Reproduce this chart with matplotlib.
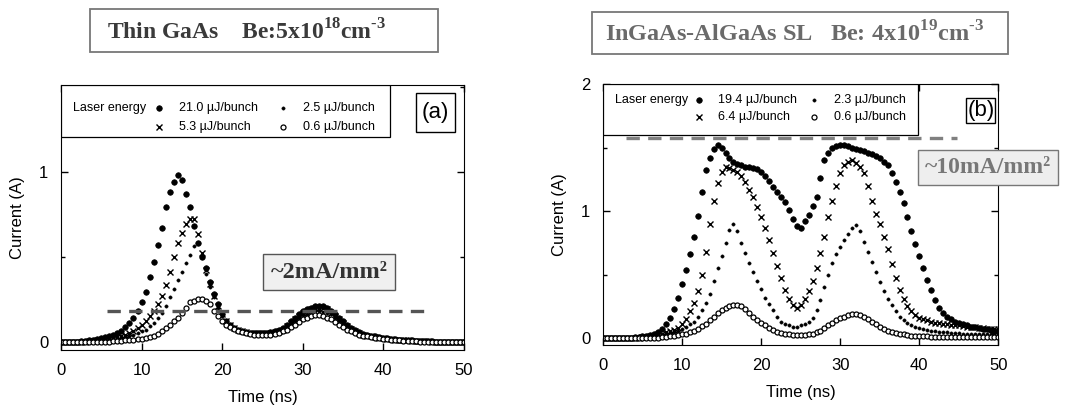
import numpy as np
import matplotlib
matplotlib.use("Agg")
import matplotlib.pyplot as plt
from matplotlib.patches import Rectangle
from matplotlib.ticker import MultipleLocator

plt.rcParams['font.family'] = ['Liberation Sans', 'DejaVu Sans']
plt.rcParams['mathtext.fontset'] = 'custom'
plt.rcParams['mathtext.rm'] = 'Liberation Serif:bold'
plt.rcParams['mathtext.bf'] = 'Liberation Serif:bold'

# time axis, one sample every 0.5 ns
time_ns = np.arange(0, 50.5, 0.5)

# (a) thin GaAs, current in A
gaas_21_0 = [0, 0, 0, 0, 0, 0.005, 0.005, 0.01, 0.01, 0.015,
             0.02, 0.025, 0.03, 0.04, 0.05, 0.065, 0.085, 0.11, 0.14, 0.18,
             0.23, 0.29, 0.38, 0.47, 0.57, 0.67, 0.79, 0.88, 0.94, 0.98,
             0.95, 0.87, 0.79, 0.68, 0.58, 0.50, 0.43, 0.35, 0.28, 0.22,
             0.16, 0.12, 0.10, 0.08, 0.07, 0.06, 0.055, 0.05, 0.05, 0.05,
             0.05, 0.05, 0.055, 0.06, 0.07, 0.08, 0.10, 0.12, 0.14, 0.16,
             0.18, 0.19, 0.20, 0.21, 0.21, 0.21, 0.20, 0.18, 0.16, 0.14,
             0.12, 0.10, 0.08, 0.07, 0.055, 0.045, 0.04, 0.035, 0.03, 0.025,
             0.02, 0.02, 0.015, 0.015, 0.01, 0.01, 0.01, 0.01, 0.005, 0.005,
             0.005, 0.005, 0.005, 0, 0, 0, 0, 0, 0, 0,
             0]
gaas_5_3 = [0, 0, 0, 0, 0, 0, 0, 0.005, 0.005, 0.01,
            0.01, 0.015, 0.02, 0.02, 0.025, 0.03, 0.04, 0.05, 0.06, 0.08,
            0.10, 0.12, 0.15, 0.18, 0.22, 0.27, 0.33, 0.41, 0.50, 0.58,
            0.64, 0.69, 0.72, 0.72, 0.63, 0.52, 0.42, 0.34, 0.27, 0.21,
            0.16, 0.12, 0.10, 0.08, 0.07, 0.06, 0.055, 0.05, 0.05, 0.05,
            0.05, 0.05, 0.05, 0.055, 0.06, 0.07, 0.09, 0.11, 0.13, 0.15,
            0.17, 0.18, 0.19, 0.20, 0.20, 0.20, 0.19, 0.17, 0.15, 0.13,
            0.11, 0.09, 0.075, 0.06, 0.05, 0.04, 0.035, 0.03, 0.025, 0.02,
            0.02, 0.015, 0.015, 0.01, 0.01, 0.01, 0.01, 0.005, 0.005, 0.005,
            0.005, 0.005, 0, 0, 0, 0, 0, 0, 0, 0,
            0]
gaas_2_5 = [0, 0, 0, 0, 0, 0, 0, 0.005, 0.005, 0.005,
            0.01, 0.01, 0.01, 0.015, 0.02, 0.02, 0.025, 0.03, 0.04, 0.05,
            0.06, 0.07, 0.09, 0.11, 0.14, 0.17, 0.21, 0.26, 0.31, 0.36,
            0.41, 0.46, 0.51, 0.56, 0.58, 0.50, 0.40, 0.32, 0.26, 0.20,
            0.15, 0.12, 0.095, 0.08, 0.07, 0.06, 0.055, 0.05, 0.045, 0.045,
            0.045, 0.045, 0.05, 0.05, 0.055, 0.065, 0.08, 0.10, 0.12, 0.14,
            0.155, 0.165, 0.175, 0.18, 0.18, 0.175, 0.17, 0.16, 0.14, 0.12,
            0.10, 0.085, 0.07, 0.06, 0.05, 0.04, 0.035, 0.03, 0.025, 0.02,
            0.015, 0.015, 0.01, 0.01, 0.01, 0.005, 0.005, 0.005, 0.005, 0.005,
            0, 0, 0, 0, 0, 0, 0, 0, 0, 0,
            0]
gaas_0_6 = [0, 0, 0, 0, 0, 0, 0, 0, 0, 0,
            0, 0, 0, 0.005, 0.005, 0.005, 0.01, 0.01, 0.01, 0.015,
            0.015, 0.02, 0.025, 0.035, 0.045, 0.06, 0.08, 0.10, 0.12, 0.14,
            0.17, 0.20, 0.23, 0.24, 0.25, 0.25, 0.24, 0.22, 0.18, 0.15,
            0.12, 0.10, 0.085, 0.075, 0.065, 0.055, 0.05, 0.045, 0.04, 0.04,
            0.04, 0.04, 0.04, 0.045, 0.05, 0.06, 0.07, 0.085, 0.10, 0.115,
            0.13, 0.14, 0.15, 0.155, 0.155, 0.15, 0.14, 0.13, 0.115, 0.10,
            0.085, 0.07, 0.06, 0.05, 0.04, 0.035, 0.03, 0.025, 0.02, 0.02,
            0.015, 0.015, 0.01, 0.01, 0.01, 0.005, 0.005, 0.005, 0.005, 0,
            0, 0, 0, 0, 0, 0, 0, 0, 0, 0,
            0]

# (b) InGaAs-AlGaAs superlattice, current in A
sl_19_4 = [0, 0, 0, 0, 0, 0, 0.005, 0.005, 0.01, 0.01,
           0.015, 0.02, 0.025, 0.035, 0.05, 0.075, 0.11, 0.16, 0.23, 0.32,
           0.43, 0.54, 0.66, 0.80, 0.96, 1.15, 1.32, 1.42, 1.49, 1.52,
           1.50, 1.46, 1.42, 1.39, 1.37, 1.36, 1.35, 1.35, 1.34, 1.33,
           1.31, 1.28, 1.24, 1.19, 1.15, 1.11, 1.07, 1.01, 0.94, 0.88,
           0.87, 0.92, 0.97, 1.04, 1.11, 1.26, 1.40, 1.46, 1.50, 1.51,
           1.52, 1.52, 1.51, 1.50, 1.49, 1.48, 1.47, 1.46, 1.45, 1.43,
           1.42, 1.39, 1.36, 1.30, 1.23, 1.15, 1.06, 0.95, 0.84, 0.74,
           0.65, 0.55, 0.46, 0.38, 0.30, 0.24, 0.20, 0.17, 0.15, 0.13,
           0.12, 0.11, 0.10, 0.09, 0.085, 0.08, 0.075, 0.07, 0.065, 0.06,
           0.06]
sl_6_4 = [0, 0, 0, 0, 0, 0, 0, 0, 0.005, 0.005,
          0.01, 0.01, 0.015, 0.02, 0.03, 0.035, 0.045, 0.055, 0.065, 0.08,
          0.11, 0.15, 0.21, 0.28, 0.37, 0.50, 0.68, 0.90, 1.08, 1.22,
          1.31, 1.35, 1.34, 1.32, 1.31, 1.28, 1.23, 1.17, 1.11, 1.03,
          0.95, 0.87, 0.77, 0.67, 0.57, 0.47, 0.38, 0.31, 0.26, 0.24,
          0.26, 0.31, 0.37, 0.45, 0.55, 0.67, 0.80, 0.95, 1.08, 1.20,
          1.30, 1.36, 1.39, 1.40, 1.38, 1.35, 1.30, 1.20, 1.08, 0.98,
          0.90, 0.80, 0.70, 0.58, 0.47, 0.38, 0.31, 0.25, 0.21, 0.18,
          0.16, 0.15, 0.14, 0.13, 0.12, 0.12, 0.115, 0.11, 0.105, 0.10,
          0.10, 0.095, 0.09, 0.09, 0.085, 0.08, 0.08, 0.075, 0.075, 0.07,
          0.07]
sl_2_3 = [0, 0, 0, 0, 0, 0, 0, 0, 0.005, 0.005,
          0.005, 0.01, 0.01, 0.015, 0.02, 0.025, 0.03, 0.04, 0.05, 0.06,
          0.07, 0.09, 0.11, 0.13, 0.17, 0.22, 0.28, 0.35, 0.45, 0.55,
          0.65, 0.75, 0.85, 0.90, 0.84, 0.75, 0.67, 0.59, 0.52, 0.45,
          0.39, 0.32, 0.27, 0.22, 0.17, 0.13, 0.11, 0.10, 0.09, 0.09,
          0.10, 0.11, 0.13, 0.16, 0.22, 0.30, 0.40, 0.50, 0.59, 0.66,
          0.72, 0.77, 0.82, 0.87, 0.89, 0.84, 0.76, 0.68, 0.60, 0.52,
          0.44, 0.37, 0.31, 0.26, 0.21, 0.17, 0.14, 0.12, 0.10, 0.09,
          0.08, 0.07, 0.065, 0.06, 0.055, 0.05, 0.05, 0.045, 0.04, 0.04,
          0.04, 0.035, 0.035, 0.035, 0.03, 0.03, 0.03, 0.03, 0.03, 0.03,
          0.03]
sl_0_6 = [0, 0, 0, 0, 0, 0, 0, 0, 0, 0,
          0, 0, 0.005, 0.005, 0.005, 0.01, 0.01, 0.015, 0.02, 0.025,
          0.03, 0.035, 0.045, 0.06, 0.075, 0.095, 0.115, 0.14, 0.17, 0.20,
          0.22, 0.24, 0.25, 0.26, 0.26, 0.25, 0.23, 0.20, 0.17, 0.14,
          0.12, 0.10, 0.08, 0.065, 0.05, 0.04, 0.035, 0.03, 0.025, 0.025,
          0.025, 0.025, 0.03, 0.035, 0.045, 0.06, 0.08, 0.10, 0.12, 0.14,
          0.16, 0.17, 0.18, 0.19, 0.19, 0.18, 0.17, 0.15, 0.13, 0.11,
          0.09, 0.075, 0.06, 0.05, 0.04, 0.035, 0.03, 0.025, 0.02, 0.02,
          0.015, 0.015, 0.015, 0.01, 0.01, 0.01, 0.01, 0.01, 0.01, 0.01,
          0.01, 0.01, 0.01, 0.01, 0.01, 0.01, 0.01, 0.01, 0.01, 0.01,
          0.01]

gaas_labels = ['21.0 µJ/bunch', '5.3 µJ/bunch', '2.5 µJ/bunch', '0.6 µJ/bunch']
sl_labels = ['19.4 µJ/bunch', '6.4 µJ/bunch', '2.3 µJ/bunch', '0.6 µJ/bunch']

# marker style per energy level, highest first
styles = [dict(marker='o', ms=4.0, mfc='black', mec='black', mew=0.5),
          dict(marker='x', ms=4.2, mec='black', mew=1.0),
          dict(marker='o', ms=2.4, mfc='black', mec='black', mew=0.3),
          dict(marker='o', ms=3.6, mfc='white', mec='black', mew=0.9)]
dash_color = {'(a)': '#555555', '(b)': '#808080'}


def draw_panel(ax, series, labels, ylim, dash_y, dash_x, box, tag_box, tag,
               text_x, rows_y):
    for ys, st in zip(series, styles):
        assert len(ys) == len(time_ns)
        ax.plot(time_ns, ys, ls='none', color='black', **st)
    ax.plot(dash_x, [dash_y, dash_y], ls=(0, (4, 2.5)), lw=2.4,
            color=dash_color[tag], zorder=5)

    ax.set_xlim(0, 50)
    ax.set_ylim(*ylim)
    ax.xaxis.set_major_locator(MultipleLocator(10))
    ax.yaxis.set_major_locator(MultipleLocator(1))
    ax.yaxis.set_minor_locator(MultipleLocator(0.5))
    ax.tick_params(which='both', direction='in', top=True, right=True,
                   labelsize=12, width=1)
    ax.tick_params(which='major', length=5, pad=9)
    ax.tick_params(which='minor', length=3)
    ax.set_xlabel('Time (ns)', fontsize=12, labelpad=9)
    ax.set_ylabel('Current (A)', fontsize=12, labelpad=10)

    # legend frame and entries
    ax.add_patch(Rectangle((0, box[0]), box[1], 1 - box[0], transform=ax.transAxes,
                           fill=True, fc='white', ec='black', lw=0.9, zorder=6))
    ax.text(0.03, rows_y[0], 'Laser energy', transform=ax.transAxes,
            fontsize=9, va='center', zorder=7)
    spots = [(text_x[0], rows_y[0]), (text_x[0], rows_y[1]),
             (text_x[1], rows_y[0]), (text_x[1], rows_y[1])]
    for (x, y), lab, st in zip(spots, labels, styles):
        ax.plot([x], [y], transform=ax.transAxes, ls='none', color='black',
                clip_on=False, zorder=7, **st)
        ax.text(x + 0.049, y, lab, transform=ax.transAxes, fontsize=9,
                va='center', zorder=7)

    ax.add_patch(Rectangle((tag_box[0], tag_box[1]), tag_box[2], tag_box[3],
                           transform=ax.transAxes, fill=True, fc='white',
                           ec='black', lw=1.0, zorder=6))
    ax.text(tag_box[0] + tag_box[2] / 2, tag_box[1] + tag_box[3] / 2, tag,
            transform=ax.transAxes, fontsize=16, ha='center', va='center',
            zorder=7)


fig = plt.figure(figsize=(10.69, 4.08), dpi=100)
ax_a = fig.add_axes([0.057, 0.142, 0.377, 0.650])
ax_b = fig.add_axes([0.564, 0.154, 0.370, 0.640])

draw_panel(ax_a, [gaas_21_0, gaas_5_3, gaas_2_5, gaas_0_6], gaas_labels,
           (-0.05, 1.51), 0.18, [5.7, 45.4], (0.804, 0.817),
           (0.881, 0.823, 0.097, 0.147), '(a)', (0.243, 0.551), (0.913, 0.842))
draw_panel(ax_b, [sl_19_4, sl_6_4, sl_2_3, sl_0_6], sl_labels,
           (-0.055, 2.0), 1.575, [2.9, 44.8], (0.805, 0.797),
           (0.919, 0.851, 0.073, 0.095), '(b)', (0.243, 0.534), (0.939, 0.874))

# titles in boxes
fig.patches.append(Rectangle((0.084, 0.873), 0.326, 0.105, transform=fig.transFigure,
                             fill=False, ec='#777777', lw=1.3))
fig.text(0.231, 0.922, r'Thin GaAs    Be:5x10$^{\mathbf{18}}$cm$^{\text{-3}}$',
         family='Liberation Serif', weight='bold', fontsize=17, color='#3a3a3a',
         ha='center', va='center')
fig.patches.append(Rectangle((0.554, 0.868), 0.389, 0.103, transform=fig.transFigure,
                             fill=False, ec='#777777', lw=1.3))
fig.text(0.743, 0.916, r'InGaAs-AlGaAs SL   Be: 4x10$^{\mathbf{19}}$cm$^{\text{-3}}$',
         family='Liberation Serif', weight='bold', fontsize=17.5, color='#6a6a6a',
         ha='center', va='center')

# current density call-outs
fig.text(0.308, 0.333, '~2mA/mm²', family='Liberation Serif', weight='bold',
         fontsize=17.5, color='#333333', ha='center', va='center', zorder=10,
         bbox=dict(boxstyle='square,pad=0.3', fc='#f0f0f0', ec='#555555', lw=1.0))
fig.text(0.924, 0.590, '~10mA/mm²', family='Liberation Serif', weight='bold',
         fontsize=17, color='#777777', ha='center', va='center', zorder=10,
         bbox=dict(boxstyle='square,pad=0.3', fc='#eeeeee', ec='#777777', lw=1.0))

fig.savefig('out.png', dpi=100)
